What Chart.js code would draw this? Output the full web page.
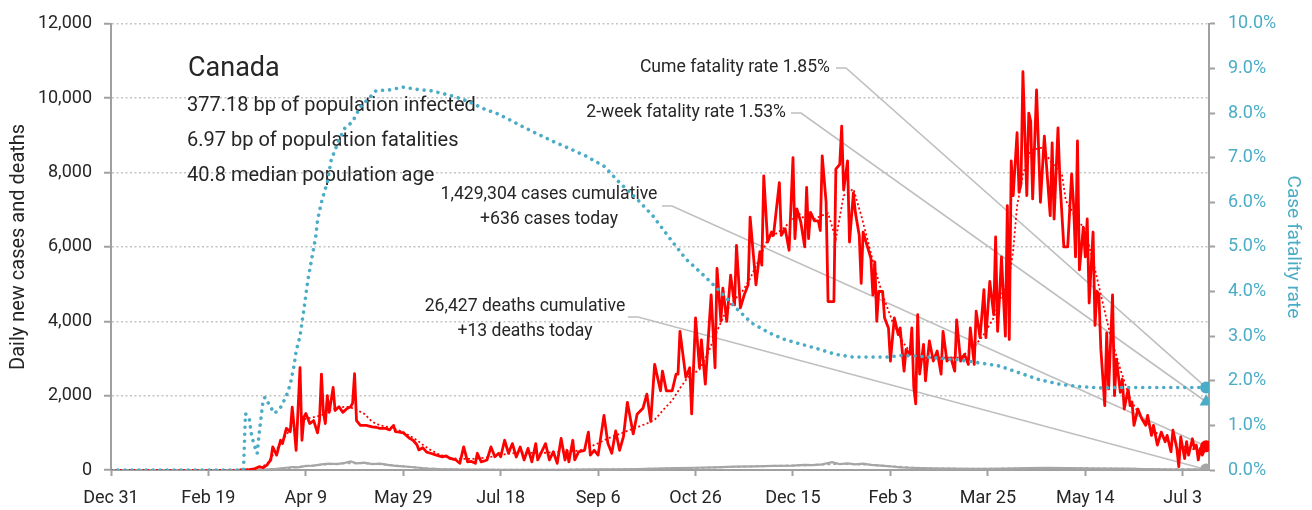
<!DOCTYPE html>
<html lang="en">
<head>
  <meta charset="UTF-8" />
  <title>Canada - daily cases, deaths and case fatality rate</title>
  <script src="https://cdn.jsdelivr.net/npm/chart.js@4.4.0/dist/chart.umd.min.js"></script>
  <style>
    * { margin: 0; padding: 0; box-sizing: border-box; }
    body { background: #ffffff; }
    #wrap { width: 1312px; height: 510px; }
  </style>
</head>
<body>
  <div id="wrap"><canvas id="covidChart" width="1312" height="510"></canvas></div>
  <script>
    // x values are days since Dec 31, 2019
    const xTickDays = [0, 50, 100, 150, 200, 250, 300, 350, 400, 450, 500, 550];
    const xTickLabels = ['Dec 31', 'Feb 19', 'Apr 9', 'May 29', 'Jul 18', 'Sep 6',
                         'Oct 26', 'Dec 15', 'Feb 3', 'Mar 25', 'May 14', 'Jul 3'];
    const lastDay = 562;

    // [day, new cases]
    const dailyCases = [
      [66,0],[71,10],[74,40],[76,90],[78,60],[80,130],[82,270],[83,620],[85,400],[87,800],[88,710],
      [90,1120],[92,1030],[93,1690],[94,1150],[95,530],[97,2750],[98,800],[99,1420],[100,1520],
      [102,1250],[104,1330],[106,1000],[107,1330],[108,2580],[109,1550],[110,1250],[111,2000],
      [112,1550],[114,2220],[115,1600],[117,1700],[119,1550],[121,1650],[123,1700],[124,1800],
      [125,2590],[126,1330],[128,1200],[131,1200],[134,1160],[136,1150],[138,1120],[141,1120],
      [143,1080],[145,1200],[146,1030],[148,1020],[150,1000],[153,860],[155,800],[157,680],
      [158,540],[160,600],[162,480],[164,450],[167,400],[170,355],[172,380],[174,310],[177,270],
      [179,180],[181,620],[183,220],[185,230],[187,180],[188,450],[190,220],[193,270],[195,620],
      [197,355],[199,450],[200,355],[202,800],[204,450],[206,710],[208,350],[210,620],[212,270],
      [214,580],[216,220],[218,710],[219,270],[221,490],[223,710],[225,270],[227,490],[229,180],
      [231,850],[233,270],[234,530],[235,220],[237,800],[238,270],[240,490],[243,530],[245,1020],
      [246,400],[248,530],[250,400],[253,1470],[255,720],[257,450],[259,1050],[261,530],[263,900],
      [265,1820],[268,970],[270,1500],[273,1660],[275,2040],[277,1310],[279,2840],[282,2130],
      [283,2660],[285,2130],[288,2130],[290,2580],[291,2580],[292,3730],[295,2490],[297,2750],
      [298,1510],[300,4090],[302,2750],[303,3500],[305,2310],[308,4710],[310,2750],[311,5420],
      [313,4000],[314,4890],[316,4000],[318,5240],[320,4440],[321,6040],[323,4360],[325,4710],
      [327,4980],[328,6800],[331,4980],[333,5870],[334,5510],[335,7910],[337,6130],[339,6400],
      [340,6310],[343,7730],[344,6310],[346,6490],[348,5910],[350,8400],[351,6220],[352,7020],
      [354,6670],[356,6000],[357,7600],[358,6220],[359,6930],[361,6700],[363,6700],[364,6440],
      [365,8450],[367,7200],[368,4530],[371,4530],[372,8090],[374,8220],[375,9250],[376,7530],
      [378,8310],[379,6130],[381,7450],[382,6930],[384,6310],[385,5020],[386,6400],[388,6040],
      [390,5690],[391,4710],[392,5600],[393,4000],[394,4800],[396,4800],[397,4090],[399,3820],
      [400,2930],[402,4090],[404,3640],[405,3820],[407,2660],[408,3240],[410,3110],[411,3820],
      [412,2220],[413,1780],[414,4180],[415,2580],[417,3380],[418,2400],[420,3470],[422,2930],
      [424,3200],[426,2580],[427,3730],[429,2930],[431,3020],[433,2660],[434,4040],[436,2930],
      [438,3110],[440,2840],[441,3820],[443,2840],[444,4270],[446,3560],[448,4850],[449,3560],
      [451,5070],[453,4180],[454,6270],[455,3730],[456,4670],[457,5730],[459,3600],[460,7110],
      [461,3510],[462,8310],[463,7380],[465,9070],[466,7470],[467,7690],[468,10710],[470,7380],
      [471,9600],[472,9380],[473,7290],[475,10220],[477,7200],[479,8980],[480,8270],[482,6840],
      [483,8800],[484,6750],[486,9200],[487,7780],[489,6000],[491,6000],[493,7960],[494,7150],
      [495,5730],[496,8850],[497,5380],[499,6530],[500,5730],[501,6750],[502,4490],[504,6400],
      [505,3890],[506,4800],[507,4710],[508,3250],[510,1730],[511,3690],[512,2180],[514,4710],
      [515,2000],[516,2980],[518,2090],[519,2440],[520,1640],[522,2180],[523,1730],[524,1820],
      [525,1200],[527,1640],[529,1380],[531,1200],[532,1470],[534,930],[535,1200],[537,670],
      [539,1020],[541,760],[542,930],[544,490],[545,1070],[547,580],[548,90],[549,890],[551,310],
      [552,760],[553,400],[555,840],[556,580],[557,670],[558,270],[559,580],[560,400],[562,636]
    ];

    // [day, 7-day average of new cases]
    const caseAverage = [
      [0,0],[66,0],[72,20],[76,60],[80,150],[83,400],[85,550],[88,800],[90,950],[93,1150],
      [96,1250],[100,1380],[104,1420],[108,1470],[112,1600],[117,1690],[122,1700],[126,1620],
      [130,1510],[134,1300],[138,1200],[143,1150],[147,1080],[150,1020],[154,900],[157,800],
      [160,680],[164,540],[168,430],[172,350],[176,310],[180,300],[186,300],[192,330],[198,380],
      [204,440],[210,470],[216,460],[222,460],[228,480],[234,500],[240,520],[245,600],[250,720],
      [255,850],[260,950],[265,1050],[270,1150],[275,1250],[279,1350],[284,1650],[288,1870],
      [292,2200],[296,2490],[302,2700],[306,3100],[311,3730],[315,4200],[319,4530],[324,4800],
      [328,5150],[332,5600],[337,6200],[341,6350],[345,6490],[349,6700],[353,6900],[357,6700],
      [361,6750],[365,6850],[368,6900],[372,6220],[376,7380],[381,7560],[385,6850],[389,6040],
      [392,5420],[396,4710],[401,4000],[406,3470],[411,3110],[418,3020],[427,3020],[436,3020],
      [444,3380],[448,3650],[453,4090],[457,4700],[461,5200],[463,5900],[465,7100],[468,7950],
      [472,8600],[478,8670],[482,8310],[488,7960],[490,7250],[494,6890],[500,6450],[505,5390],
      [509,4490],[513,3600],[518,2710],[523,1920],[528,1470],[533,1150],[538,930],[543,780],
      [548,670],[553,590],[558,530],[562,510]
    ];

    // [day, new deaths]
    const dailyDeaths = [
      [60,0],[70,2],[78,10],[85,30],[90,60],[93,80],[96,70],[100,110],[104,120],[108,150],
      [112,170],[116,160],[120,190],[123,230],[126,180],[130,200],[134,160],[138,170],[142,140],
      [146,110],[150,100],[154,80],[158,60],[162,40],[166,30],[170,20],[175,15],[180,10],[190,8],
      [200,6],[210,5],[220,5],[230,6],[240,8],[250,15],[260,20],[270,25],[280,40],[290,50],
      [300,60],[310,70],[320,90],[330,100],[340,110],[350,120],[356,140],[360,130],[365,150],
      [370,210],[374,160],[378,180],[382,150],[386,170],[390,140],[395,120],[400,100],[405,70],
      [410,60],[420,45],[430,35],[440,30],[450,30],[460,40],[470,50],[480,55],[490,50],[500,45],
      [510,40],[520,35],[530,25],[540,20],[550,12],[556,15],[562,13]
    ];

    // [day, 7-day average of new deaths]
    const deathAverage = [
      [60,0],[80,10],[90,50],[100,100],[110,150],[120,180],[130,180],[140,150],[150,100],
      [160,50],[170,20],[180,10],[200,6],[250,12],[280,35],[300,55],[320,85],[340,110],
      [360,135],[370,160],[380,160],[390,140],[400,100],[410,65],[420,45],[440,32],[460,38],
      [480,50],[500,45],[520,35],[540,22],[562,15]
    ];

    // [day, cumulative case fatality rate in %]
    const fatalityRate = [
      [0,0],[68,0],[69,1.26],[71,1.15],[72,0.82],[73,0.63],[74,0.5],[75,0.37],[76,0.8],[77,1.18],
      [78,1.55],[79,1.63],[81,1.48],[82,1.4],[84,1.27],[87,1.4],[90,1.66],[92,1.92],[94,2.35],
      [95,2.66],[97,3.0],[99,3.6],[101,4.25],[103,4.73],[105,5.2],[106,5.6],[108,6.0],[111,6.45],
      [113,6.95],[117,7.4],[120,7.66],[124,7.81],[128,8.14],[133,8.36],[136,8.5],[143,8.52],
      [150,8.58],[157,8.53],[164,8.5],[170,8.44],[177,8.36],[184,8.25],[191,8.1],[198,7.99],
      [205,7.84],[211,7.7],[218,7.55],[227,7.36],[235,7.21],[244,7.03],[253,6.81],[261,6.44],
      [270,6.07],[278,5.7],[287,5.18],[295,4.73],[304,4.37],[312,4.03],[321,3.62],[329,3.29],
      [338,3.07],[346,2.92],[355,2.81],[364,2.7],[372,2.59],[381,2.53],[398,2.53],[406,2.57],
      [415,2.55],[424,2.51],[432,2.48],[440,2.44],[456,2.33],[466,2.18],[476,2.03],[487,1.92],
      [497,1.87],[508,1.84],[520,1.85],[562,1.85]
    ];

    const countryName = 'Canada';
    const infoLines = ['377.18 bp of population infected', '6.97 bp of population fatalities',
                       '40.8 median population age'];
    const cumeRate = 1.85;
    const twoWeekRate = 1.53;
    const totalCases = 1429304;
    const casesToday = 636;
    const totalDeaths = 26427;
    const deathsToday = 13;

    const FONT = "Roboto, 'Liberation Sans', sans-serif";
    const TEAL = '#4bacc6';
    const RED = '#ff0000';
    const GREY = '#a6a6a6';
    const AXIS = '#a0a0a0';
    const TEXT = '#262626';

    const toXY = (pairs) => pairs.map(p => ({ x: p[0], y: p[1] }));

    // text block and leader lines to the end-of-series markers
    const notesPlugin = {
      id: 'notes',
      beforeDatasetsDraw(chart) {
        const ctx = chart.ctx;
        const xs = chart.scales.x, yl = chart.scales.y, yr = chart.scales.y1;
        const ex = xs.getPixelForValue(lastDay);
        ctx.save();
        ctx.fillStyle = TEXT;
        ctx.textBaseline = 'middle';
        ctx.textAlign = 'left';
        ctx.font = '27px ' + FONT;
        ctx.fillText(countryName, 188, 69);
        ctx.font = '20px ' + FONT;
        infoLines.forEach((t, i) => ctx.fillText(t, 187, 106 + i * 35));

        ctx.font = '17.6px ' + FONT;
        ctx.textAlign = 'right';
        ctx.fillText('Cume fatality rate ' + cumeRate.toFixed(2) + '%', 830, 68);
        ctx.fillText('2-week fatality rate ' + twoWeekRate.toFixed(2) + '%', 786, 113);
        ctx.textAlign = 'center';
        ctx.fillText(totalCases.toLocaleString('en-US') + ' cases cumulative', 549, 195);
        ctx.fillText('+' + casesToday + ' cases today', 549, 220);
        ctx.fillText(totalDeaths.toLocaleString('en-US') + ' deaths cumulative', 525, 307);
        ctx.fillText('+' + deathsToday + ' deaths today', 525, 332);

        ctx.strokeStyle = '#bfbfbf';
        ctx.lineWidth = 1.6;
        const leader = (x0, y0, y1) => {
          ctx.beginPath();
          ctx.moveTo(x0, y0);
          ctx.lineTo(x0 + 10, y0);
          ctx.lineTo(ex, y1);
          ctx.stroke();
        };
        leader(836, 68, yr.getPixelForValue(cumeRate));
        leader(791, 113, yr.getPixelForValue(twoWeekRate));
        leader(662, 206, yl.getPixelForValue(casesToday));
        leader(628, 317, yl.getPixelForValue(deathsToday));
        ctx.restore();
      }
    };

    Chart.defaults.font.family = FONT;
    Chart.defaults.color = TEXT;

    const ctx = document.getElementById('covidChart').getContext('2d');
    const covidChart = new Chart(ctx, {
      type: 'line',
      data: {
        datasets: [
          {
            label: 'Markers (cases)',
            data: [{ x: lastDay, y: casesToday }, { x: lastDay, y: deathsToday }],
            yAxisID: 'y',
            showLine: false,
            pointRadius: 6,
            pointStyle: 'circle',
            pointBackgroundColor: [RED, GREY],
            pointBorderWidth: 0,
            order: 0
          },
          {
            label: 'Markers (rates)',
            data: [{ x: lastDay, y: cumeRate }, { x: lastDay, y: twoWeekRate }],
            yAxisID: 'y1',
            showLine: false,
            pointRadius: [6, 7.5],
            pointStyle: ['circle', 'triangle'],
            pointBackgroundColor: TEAL,
            pointBorderWidth: 0,
            order: 0
          },
          {
            label: 'Case fatality rate',
            data: toXY(fatalityRate),
            yAxisID: 'y1',
            borderColor: TEAL,
            borderWidth: 3.6,
            borderDash: [0.01, 7],
            borderCapStyle: 'round',
            pointRadius: 0,
            order: 1
          },
          {
            label: 'Cases 7-day average',
            data: toXY(caseAverage),
            yAxisID: 'y',
            borderColor: RED,
            borderWidth: 1.8,
            borderDash: [2, 2.5],
            pointRadius: 0,
            order: 2
          },
          {
            label: 'Daily new cases',
            data: toXY(dailyCases),
            yAxisID: 'y',
            borderColor: RED,
            borderWidth: 2.8,
            borderJoinStyle: 'round',
            pointRadius: 0,
            order: 3
          },
          {
            label: 'Deaths 7-day average',
            data: toXY(deathAverage),
            yAxisID: 'y',
            borderColor: GREY,
            borderWidth: 2,
            borderDash: [3, 3],
            pointRadius: 0,
            order: 4
          },
          {
            label: 'Daily new deaths',
            data: toXY(dailyDeaths),
            yAxisID: 'y',
            borderColor: GREY,
            borderWidth: 2.2,
            pointRadius: 0,
            order: 5
          }
        ]
      },
      options: {
        responsive: false,
        animation: false,
        devicePixelRatio: 1,
        layout: { padding: { top: 19, left: 0, right: 0, bottom: 0 } },
        plugins: {
          legend: { display: false },
          tooltip: { enabled: false }
        },
        scales: {
          x: {
            type: 'linear',
            min: 0,
            max: 563.5,
            afterBuildTicks: (scale) => { scale.ticks = xTickDays.map(v => ({ value: v })); },
            afterFit: (scale) => { scale.height = 40; },
            grid: { drawOnChartArea: false, tickLength: 6, tickColor: AXIS, tickWidth: 2 },
            border: { color: AXIS, width: 2 },
            ticks: {
              autoSkip: false,
              maxRotation: 0,
              padding: 12,
              color: TEXT,
              font: { size: 18 },
              callback: (v) => xTickLabels[xTickDays.indexOf(v)] ?? ''
            }
          },
          y: {
            position: 'left',
            min: 0,
            max: 12000,
            afterFit: (scale) => { scale.width = 111; },
            grid: { color: '#c4c4c4', lineWidth: 1.5, tickLength: 7, tickColor: AXIS, tickWidth: 2 },
            border: { color: AXIS, width: 2, dash: [2, 2.5] },
            ticks: {
              stepSize: 2000,
              padding: 12,
              color: TEXT,
              font: { size: 18 },
              callback: (v) => v.toLocaleString('en-US')
            },
            title: {
              display: true,
              text: 'Daily new cases and deaths',
              color: TEXT,
              font: { size: 20 },
              padding: { top: 7 }
            }
          },
          y1: {
            position: 'right',
            min: 0,
            max: 10,
            afterFit: (scale) => { scale.width = 103; },
            grid: { drawOnChartArea: false, tickLength: 6, tickColor: AXIS, tickWidth: 2 },
            border: { color: AXIS, width: 2 },
            ticks: {
              stepSize: 1,
              padding: 13,
              color: TEAL,
              font: { size: 18 },
              callback: (v) => v.toFixed(1) + '%'
            },
            title: {
              display: true,
              text: 'Case fatality rate',
              color: TEAL,
              font: { size: 19 },
              padding: { top: 8 }
            }
          }
        }
      },
      plugins: [notesPlugin]
    });
  </script>
</body>
</html>
